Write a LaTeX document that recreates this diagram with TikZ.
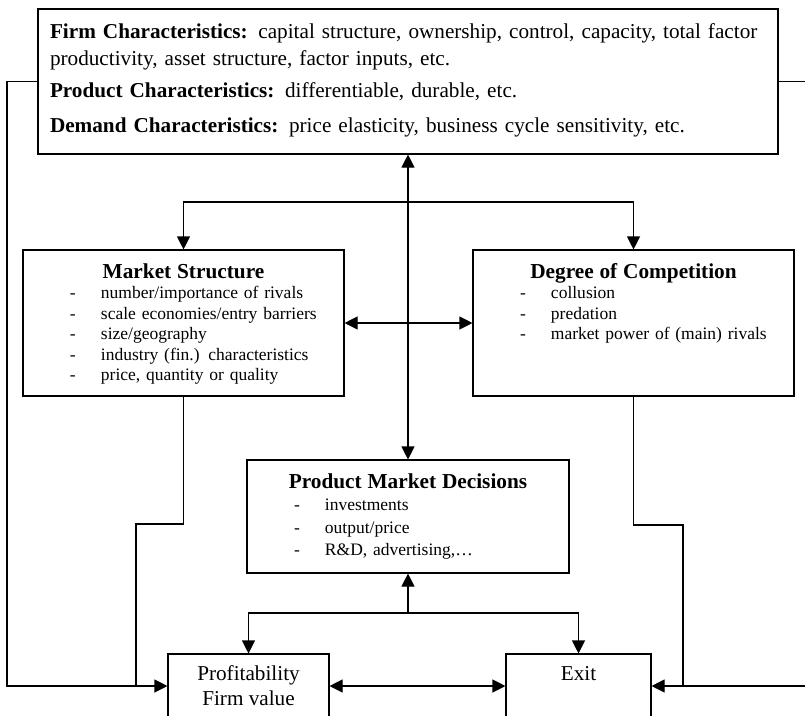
\documentclass[tikz,border=0pt]{standalone}
\usepackage{fontspec}
\setmainfont{Liberation Serif}
\usetikzlibrary{arrows.meta, positioning, calc}

\newcommand{\itm}[1]{\par\noindent\hspace*{47pt}\makebox[31pt][l]{-}#1}
\newcommand{\boxtitle}[1]{{\centering\fontsize{21.3}{22}\selectfont\bfseries #1\par}}

\begin{document}
\begin{tikzpicture}[x=1pt, y=-1pt,
    box/.style={draw, line width=1.1pt, inner xsep=0pt, inner ysep=6pt, align=left, text height=22pt},
    endbox/.style={draw, line width=1.1pt, inner sep=0pt, minimum height=64pt, align=center, font=\fontsize{21.2}{25}\selectfont},
    link/.style={line width=1.1pt},
    oneway/.style={link, -{Triangle[length=13pt,width=13pt]}},
    twoway/.style={link, {Triangle[length=13pt,width=13pt]}-{Triangle[length=13pt,width=13pt]}}]
  \useasboundingbox (0,0) rectangle (805,715);
  \clip (0,0) rectangle (805,715);

  % Characteristics
  \node[box, text width=716pt, inner xsep=12pt, text height=23pt, text depth=110pt, font=\fontsize{21.2}{27}\selectfont] (chars) at (408,81.5) {\textbf{Firm Characteristics:} capital structure, ownership, control, capacity, total factor\\ productivity, asset structure, factor inputs, etc.\\[5pt] \textbf{Product Characteristics:} differentiable, durable, etc.\\[8pt] \textbf{Demand Characteristics:} price elasticity, business cycle sensitivity, etc.};

  % Structure and competition
  \node[box, text width=321pt, text depth=112pt, font=\fontsize{17.5}{20.5}\selectfont] (ms) at (183.5,323) {\boxtitle{Market Structure}\itm{number/importance of rivals}\itm{scale economies/entry barriers}\itm{size/geography}\itm{industry (fin.) characteristics}\itm{price, quantity or quality}};
  \node[box, text width=321pt, text depth=112pt, font=\fontsize{17.5}{20.5}\selectfont] (dc) at (633.5,323) {\boxtitle{Degree of Competition}\itm{collusion}\itm{predation}\itm{market power of (main) rivals}};

  % Decisions
  \node[box, text width=322pt, text depth=79pt, font=\fontsize{17.5}{22.5}\selectfont] (pmd) at (408,516.5) {\boxtitle{Product Market Decisions}\itm{investments}\itm{output/price}\itm{R\&D, advertising,\ldots}};

  % Outcomes
  \node[endbox, minimum width=161pt] (prof) at (248.5,686) {Profitability\\Firm value};
  \node[endbox, minimum width=145pt] (exit) at (578.5,686) {Exit\\\phantom{Firm value}};

  \coordinate (topsplit) at (408,202);
  \coordinate (botsplit) at (408,613);
  \coordinate (lcorner) at (7,686);
  \coordinate (rcorner) at (812,686);
  \coordinate (mskink) at (136,524);
  \coordinate (dckink) at (683,525);

  % Links
  \draw[twoway] (chars.south) -- (pmd.north);
  \draw[twoway] (ms.north) |- (topsplit) -| (dc.north);
  \draw[twoway] (ms.east) -- (dc.west);
  \draw[oneway] (botsplit) -- (pmd.south);
  \draw[twoway] (prof.north) |- (botsplit) -| (exit.north);
  \draw[twoway] (prof.east) -- (exit.west);

  % Feedback
  \draw[oneway] (chars.west) -| (lcorner) -- (prof.west);
  \draw[oneway] (chars.east) -| (rcorner) -- (exit.east);
  \draw[link] (ms.south) |- (mskink) -- (mskink |- prof.west);
  \draw[link] (dc.south) |- (dckink) -- (dckink |- exit.east);
\end{tikzpicture}
\end{document}
